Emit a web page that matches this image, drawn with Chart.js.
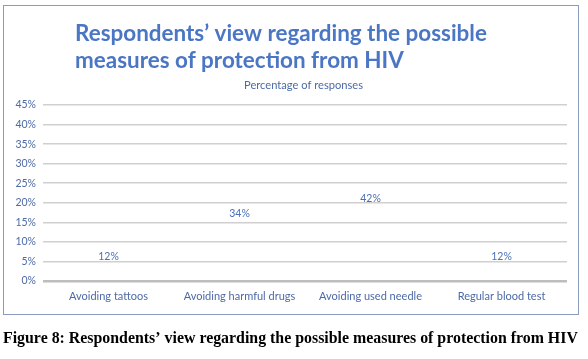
<!DOCTYPE html>
<html>
<head>
<meta charset="utf-8">
<script src="https://cdn.jsdelivr.net/npm/chart.js@4.4.1/dist/chart.umd.min.js"></script>
<style>
  html, body { margin: 0; padding: 0; background: #fff; }
  #wrap { position: absolute; left: 0; top: 0; width: 588px; height: 359px; }
</style>
</head>
<body>
<div id="wrap"><canvas id="c" width="588" height="359"></canvas></div>
<script>
const categories = ["Avoiding tattoos", "Avoiding harmful drugs", "Avoiding used needle", "Regular blood test"];
const percentages = [12, 34, 42, 12];
const titleLines = ["Respondents\u2019 view regarding the possible", "measures of protection from HIV"];
const subtitleText = "Percentage of responses";
const captionText = "Figure 8: Respondents\u2019 view regarding the possible measures of protection from HIV";

const SANS = "Lato, 'Open Sans', 'Liberation Sans', sans-serif";
const SERIF = "'Liberation Serif', 'DejaVu Serif', serif";

function fitFont(ctx, text, weight, family, targetWidth) {
  ctx.font = weight + " 20px " + family;
  const w = ctx.measureText(text).width;
  return 20 * targetWidth / w;
}

const decorPlugin = {
  id: 'decor',
  beforeDraw(chart) {
    const ctx = chart.ctx;
    ctx.save();
    ctx.fillStyle = '#ffffff';
    ctx.fillRect(0, 0, chart.width, chart.height);
    ctx.strokeStyle = '#8c9cbc';
    ctx.lineWidth = 1;
    ctx.strokeRect(3.5, 5.5, 575, 309);
    ctx.restore();
  },
  afterDraw(chart) {
    const ctx = chart.ctx;
    ctx.save();
    const ts = fitFont(ctx, titleLines[0], 'bold', SANS, 412);
    ctx.font = 'bold ' + ts.toFixed(2) + 'px ' + SANS;
    ctx.fillStyle = '#4a76c4';
    ctx.textAlign = 'left';
    ctx.textBaseline = 'alphabetic';
    ctx.fillText(titleLines[0], 75, 41);
    ctx.fillText(titleLines[1], 75, 68);
    const ss = fitFont(ctx, subtitleText, 'normal', SANS, 119);
    ctx.font = ss.toFixed(2) + 'px ' + SANS;
    ctx.fillStyle = '#4d6aa6';
    ctx.textAlign = 'center';
    ctx.textBaseline = 'middle';
    ctx.fillText(subtitleText, 303.5, 85.5);
    const meta = chart.getDatasetMeta(0);
    ctx.font = '10.5px ' + SANS;
    ctx.fillStyle = '#4a70b8';
    meta.data.forEach((bar, i) => {
      const p = bar.getProps(['x', 'y', 'base'], true);
      ctx.fillText(percentages[i] + '%', p.x, (p.y + p.base) / 2);
    });
    const cs = fitFont(ctx, captionText, 'bold', SERIF, 575);
    ctx.font = 'bold ' + cs.toFixed(2) + 'px ' + SERIF;
    ctx.fillStyle = '#000000';
    ctx.textAlign = 'left';
    ctx.textBaseline = 'alphabetic';
    ctx.fillText(captionText, 3, 343);
    ctx.restore();
  }
};

new Chart(document.getElementById('c'), {
  type: 'bar',
  data: {
    labels: categories,
    datasets: [{
      label: 'Percentage of responses',
      data: percentages,
      backgroundColor: 'rgba(0,0,0,0)',
      borderWidth: 0
    }]
  },
  options: {
    responsive: false,
    animation: false,
    devicePixelRatio: 1,
    layout: { padding: { left: 3, right: 21, top: 105, bottom: 50 } },
    plugins: {
      legend: { display: false },
      title: { display: false },
      tooltip: { enabled: false }
    },
    scales: {
      x: {
        grid: { display: false, drawTicks: false },
        border: { display: false },
        ticks: {
          color: '#4d6aa6',
          font: { family: SANS, size: 11 },
          padding: 9,
          maxRotation: 0,
          autoSkip: false
        },
        afterFit(s) { s.height = 28; }
      },
      y: {
        min: 0,
        max: 45,
        border: { display: false },
        grid: {
          drawTicks: false,
          color: (c) => c.tick && c.tick.value === 0 ? '#bdbdbd' : '#d0d0d0',
          lineWidth: (c) => c.tick && c.tick.value === 0 ? 2.5 : 1.5
        },
        ticks: {
          stepSize: 5,
          color: '#4d6aa6',
          font: { family: SANS, size: 10.5 },
          padding: 7,
          callback: (v) => v + '%'
        },
        afterFit(s) { s.width = 40; }
      }
    }
  },
  plugins: [decorPlugin]
});
</script>
</body>
</html>
